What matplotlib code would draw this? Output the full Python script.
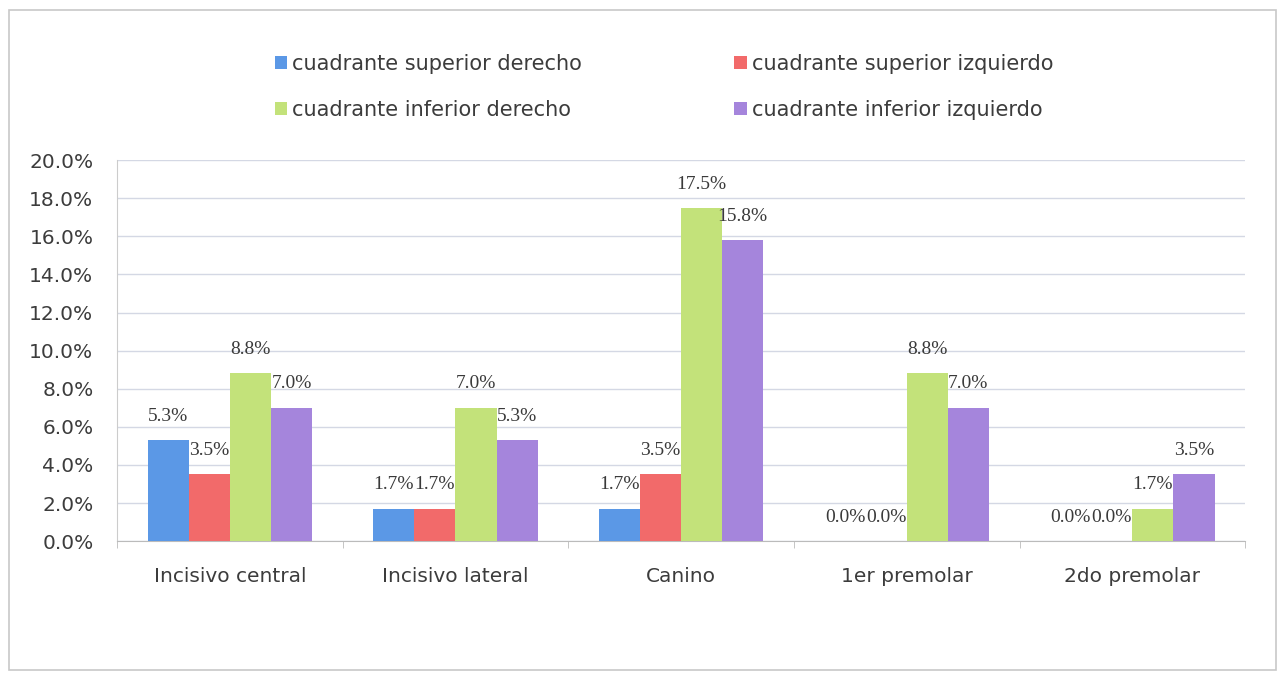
import numpy as np
import matplotlib
matplotlib.use("Agg")
import matplotlib.pyplot as plt
from matplotlib.patches import Rectangle

categorias = ["Incisivo central", "Incisivo lateral", "Canino", "1er premolar", "2do premolar"]
series = ["cuadrante superior derecho", "cuadrante superior izquierdo",
          "cuadrante inferior derecho", "cuadrante inferior izquierdo"]
sup_der = [5.3, 1.7, 1.7, 0.0, 0.0]
sup_izq = [3.5, 1.7, 3.5, 0.0, 0.0]
inf_der = [8.8, 7.0, 17.5, 8.8, 1.7]
inf_izq = [7.0, 5.3, 15.8, 7.0, 3.5]
valores = [sup_der, sup_izq, inf_der, inf_izq]
colores = ["#5b98e6", "#f26a6a", "#c3e27a", "#a585dc"]

plt.rcParams['font.family'] = ['DejaVu Sans']

fig = plt.figure(figsize=(12.82, 6.73), dpi=100)
# marco del gráfico
fig.patches.append(Rectangle((0.007, 0.005), 0.988, 0.98, transform=fig.transFigure,
                             fill=False, edgecolor="#c8c8c8", linewidth=1.2))

ax = fig.add_axes([0.0913, 0.196, 0.88, 0.566])
x = np.arange(len(categorias))
ancho = 0.182
handles = []
for i, (vals, col, nombre) in enumerate(zip(valores, colores, series)):
    pos = x + (i - 1.5) * ancho
    barras = ax.bar(pos, vals, width=ancho, color=col, label=nombre, zorder=3)
    handles.append(barras)
    for b, v in zip(barras, vals):
        ax.annotate(f"{v:.1f}%", (b.get_x() + b.get_width() / 2, v), xytext=(0, 11),
                    textcoords="offset points", ha="center", va="bottom",
                    fontsize=14, family="Liberation Serif", color="#3a3a3a", zorder=4)

ax.set_xlim(-0.5, len(categorias) - 0.5)
ax.set_ylim(0, 20)
ax.set_yticks(np.arange(0, 21, 2))
ax.set_yticklabels([f"{t:.1f}%" for t in np.arange(0, 21, 2)], fontsize=14.5, color="#3c3c3c")
ax.set_xticks(x)
ax.set_xticklabels(categorias, fontsize=14.5, color="#3c3c3c")
ax.set_xticks(np.arange(-0.5, len(categorias), 1), minor=True)
ax.tick_params(axis="x", which="major", length=0, pad=19)
ax.tick_params(axis="x", which="minor", length=5, color="#bbbbbb")
ax.tick_params(axis="y", length=0, pad=17)
ax.grid(axis="y", color="#d4d8e4", linewidth=1, zorder=0)
for lado in ["top", "right"]:
    ax.spines[lado].set_visible(False)
ax.spines["left"].set_color("#cccccc")
ax.spines["bottom"].set_color("#bbbbbb")

# orden por filas como en el original
orden = [0, 2, 1, 3]
leg = fig.legend([handles[k] for k in orden], [series[k] for k in orden],
                 loc="upper center", bbox_to_anchor=(0.518, 0.948), ncol=2, frameon=False,
                 fontsize=15, handlelength=0.6, handleheight=0.6, handletextpad=0.25,
                 columnspacing=7.3, labelspacing=1.25)
for t in leg.get_texts():
    t.set_color("#3c3c3c")

fig.savefig("out.png", dpi=100)
